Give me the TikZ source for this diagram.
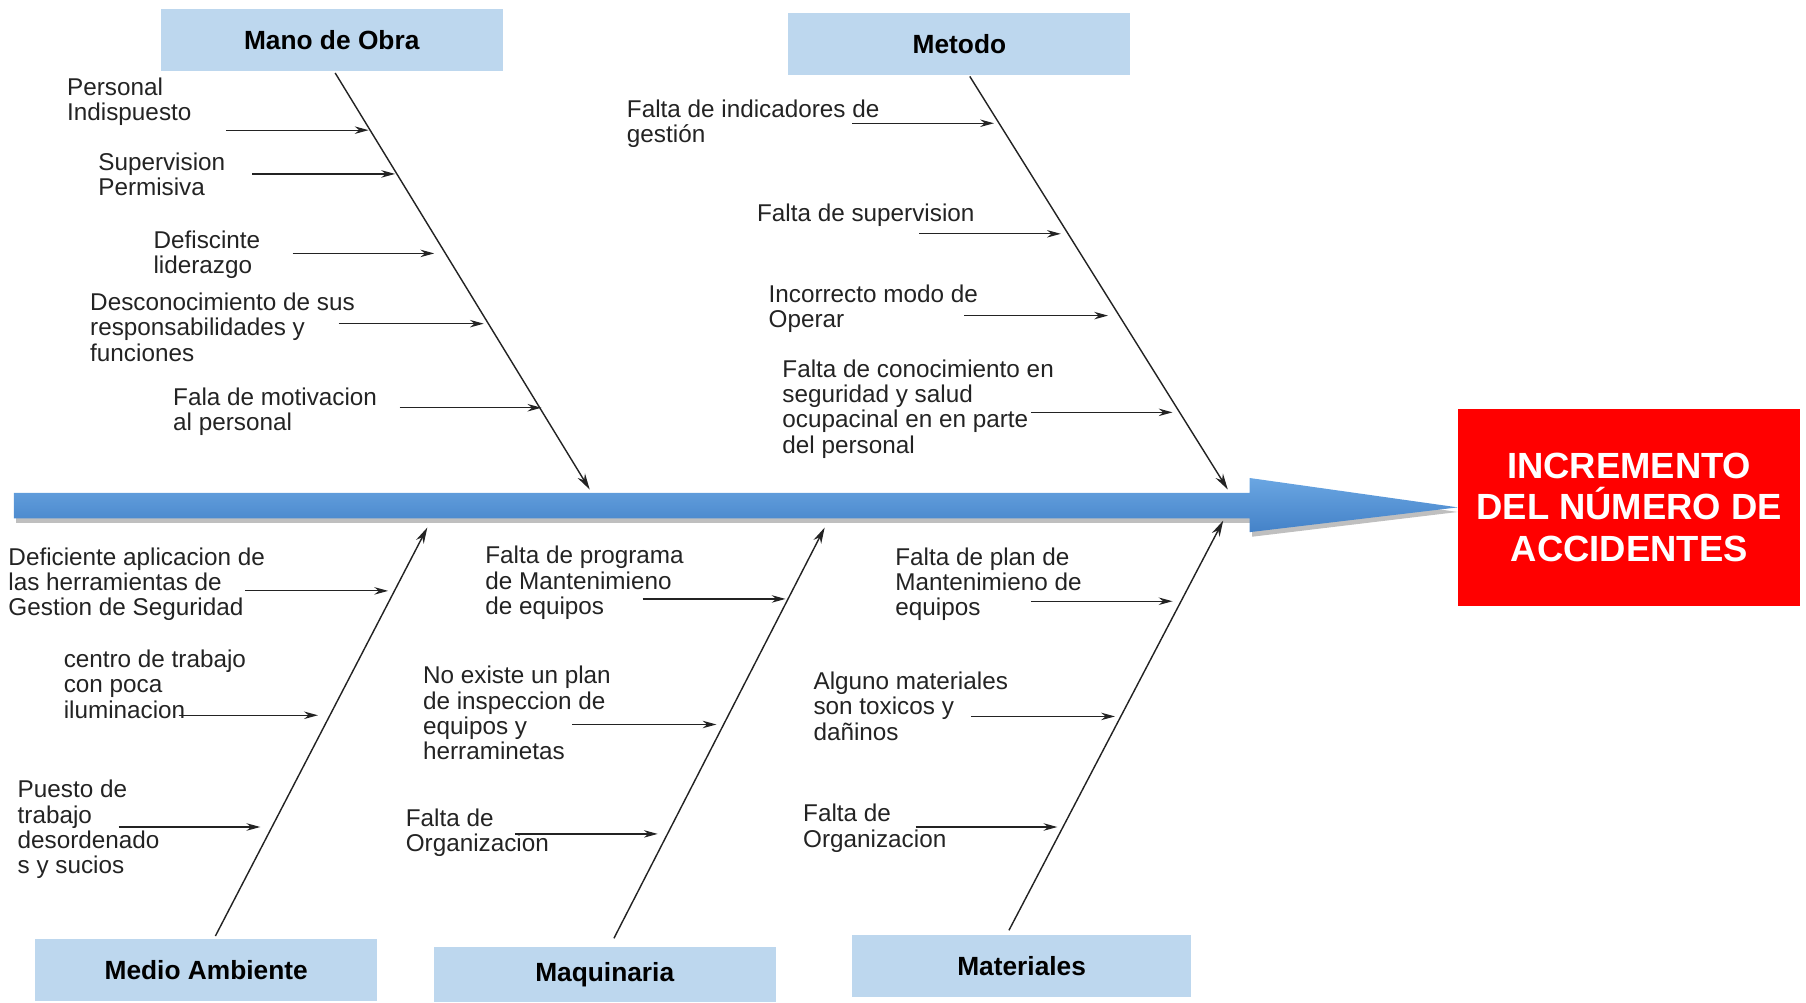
\documentclass[tikz,border=0pt]{standalone}
\usepackage{fontspec}
\setmainfont{Liberation Sans}
\usetikzlibrary{arrows.meta,positioning,calc}
\definecolor{boxblue}{RGB}{189,215,238}
\definecolor{spinetop}{RGB}{106,166,226}
\definecolor{spinebot}{RGB}{68,130,200}
\definecolor{effred}{RGB}{255,0,0}
\definecolor{inkgray}{RGB}{35,35,35}

\begin{document}
\begin{tikzpicture}[x=0.02cm,y=-0.02cm,
    catbox/.style={fill=boxblue,minimum width=5.94cm,minimum height=1.08cm,
      font=\fontsize{13}{15}\selectfont\bfseries},
    bone/.style={-{Stealth[length=2.8mm,width=1.5mm]},line width=0.7pt,inkgray},
    cause/.style={-{Stealth[length=2.4mm,width=1.3mm]},line width=0.6pt,inkgray},
    lbl/.style={anchor=north west,inner sep=0pt,align=left,
      font=\fontsize{12}{12.5}\selectfont,text=inkgray}]
    \useasboundingbox (0,0) rectangle (1568,870);
    % category boxes
    \node[catbox] (mano) at (288,35) {Mano de Obra};
    \node[catbox] (metodo) at (833,38) {Metodo};
    \node[catbox] (medio) at (179,842) {Medio Ambiente};
    \node[catbox,minimum height=0.96cm] (maquina) at (525,846) {Maquinaria};
    \node[catbox,minimum width=5.88cm] (material) at (887,839) {Materiales};
    % effect
    \node[fill=effred,minimum width=5.94cm,minimum height=3.42cm,align=center,
      text=white,font=\fontsize{18}{20.5}\selectfont\bfseries] (efecto) at (1414.5,440.5)
      {INCREMENTO\\DEL NÚMERO DE\\ACCIDENTES};
    % the spine
    \fill[black,opacity=0.25] (14,432) -- (1087,432) -- (1087,419)
      -- ($(efecto.west)+(0,4)$) -- (1087,466) -- (1087,454) -- (14,454) -- cycle;
    \shade[top color=spinetop,bottom color=spinebot] (12,428) -- (1085,428) -- (1085,415)
      -- (efecto.west) -- (1085,462) -- (1085,450) -- (12,450) -- cycle;
    % bones
    \coordinate (jmano) at (512,425);
    \coordinate (jmetodo) at (1066,425);
    \coordinate (jmedio) at (371,458);
    \coordinate (jmaquina) at (716,458);
    \coordinate (jmaterial) at (1062,452);
    \draw[bone] ($(mano.south)+(3,1)$) -- (jmano);
    \draw[bone] ($(metodo.south)+(9,1)$) -- (jmetodo);
    \draw[bone] ($(medio.north)+(8,-2)$) -- (jmedio);
    \draw[bone] ($(maquina.north)+(8,-7)$) -- (jmaquina);
    \draw[bone] ($(material.north)+(-11,-4)$) -- (jmaterial);
    % causes: text x / text y / text / arrow from / arrow to / arrow y
    \foreach \tx/\ty/\txt/\ax/\bx/\ay [count=\i] in {
      58/76/{Personal\\Indispuesto}/196/320/113,
      85/141/{Supervision\\Permisiva}/219/343/151,
      133/209/{Defiscinte\\liderazgo}/254/377/220,
      78/263/{Desconocimiento de sus\\responsabilidades y\\funciones}/294/420/281,
      150/345/{Fala de motivacion\\al personal}/347/470/354,
      544/95/{Falta de indicadores de\\gestión}/740/863/107,
      657/186/{Falta de supervision}/798/921/203,
      667/256/{Incorrecto modo de\\Operar}/837/962/274,
      679/321/{Falta de conocimiento en\\seguridad y salud\\ocupacinal en en parte\\del personal}/895/1018/358,
      7/484/{Deficiente aplicacion de\\las herramientas de\\Gestion de Seguridad}/213/337/513,
      55/573/{centro de trabajo\\con poca\\iluminacion}/155/276/621,
      15/686/{Puesto de\\trabajo\\desordenado\\s y sucios}/103/226/718,
      421/483/{Falta de programa\\de Mantenimieno\\de equipos}/558/682/520,
      367/587/{No existe un plan\\de inspeccion de\\equipos y\\herraminetas}/497/622/629,
      352/711/{Falta de\\Organizacion}/447/571/724,
      777/484/{Falta de plan de\\Mantenimieno de\\equipos}/895/1018/522,
      706/592/{Alguno materiales\\son toxicos y\\dañinos}/843/968/622,
      697/707/{Falta de\\Organizacion}/795/918/718}{
      \node[lbl] (cause\i) at (\tx,\ty-9) {\txt};
      \coordinate (from\i) at (\ax,\ay);
      \coordinate (to\i) at (\bx,\ay);
      \draw[cause] (from\i) -- (to\i);}
\end{tikzpicture}
\end{document}
